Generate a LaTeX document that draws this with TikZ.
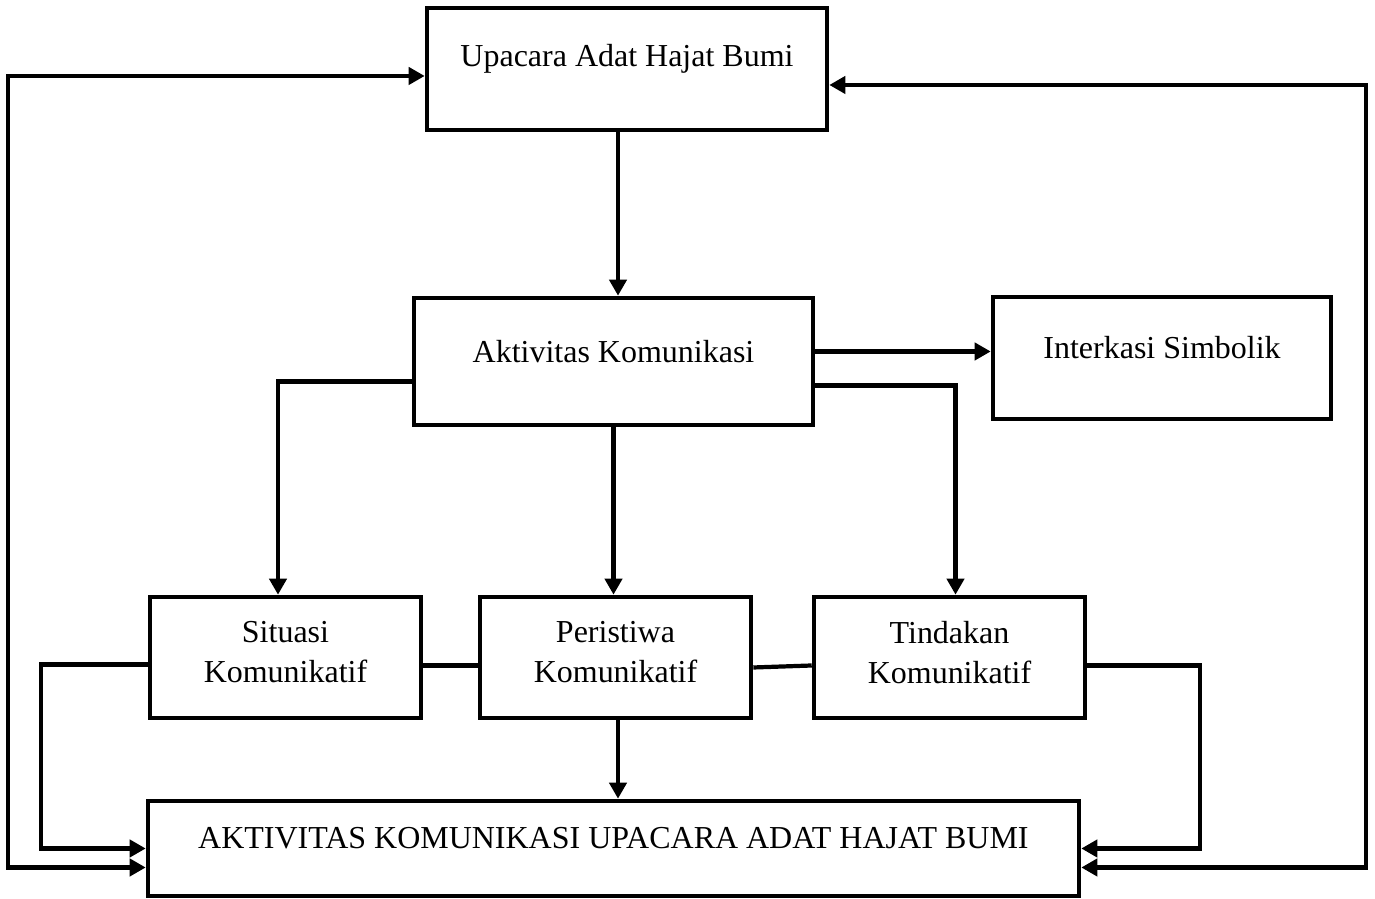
\documentclass[tikz,border=0pt]{standalone}
\usepackage{fontspec}
\setmainfont{Liberation Serif}
\usetikzlibrary{arrows.meta}

\begin{document}
\begin{tikzpicture}[
  kotak/.style={draw,line width=1.3pt,minimum height=1.22cm,inner sep=0pt},
  isi/.style={yshift=1mm,align=center,font=\fontsize{9.1}{11.4}\selectfont},
  garis/.style={line width=1.2pt},
  panah/.style={garis,-{Triangle[length=1.6mm,width=1.7mm]}},
  panahdua/.style={garis,{Triangle[length=1.6mm,width=1.7mm]}-{Triangle[length=1.6mm,width=1.7mm]}}
]
\useasboundingbox (0,0) rectangle (13.75,8.99);
\node[kotak,minimum width=4cm,label={[isi]center:Upacara Adat Hajat Bumi}] (upacara) at (6.27,8.30) {};
\node[kotak,minimum width=3.99cm,minimum height=1.27cm,label={[isi]center:Aktivitas Komunikasi}] (aktivitas) at (6.135,5.375) {};
\node[kotak,minimum width=3.38cm,label={[isi]center:Interkasi Simbolik}] (interaksi) at (11.62,5.41) {};
\node[kotak,minimum width=2.71cm,minimum height=1.21cm,label={[isi,yshift=-0.5mm]center:Situasi\\Komunikatif}] (situasi) at (2.855,2.415) {};
\node[kotak,minimum width=2.71cm,minimum height=1.21cm,label={[isi,yshift=-0.5mm]center:Peristiwa\\Komunikatif}] (peristiwa) at (6.155,2.415) {};
\node[kotak,minimum width=2.71cm,minimum height=1.21cm,label={[isi,yshift=-0.5mm]center:Tindakan\\Komunikatif}] (tindakan) at (9.495,2.415) {};
\node[kotak,minimum width=9.31cm,minimum height=0.95cm,label={[isi]center:AKTIVITAS KOMUNIKASI UPACARA ADAT HAJAT BUMI}] (hasil) at (6.135,0.505) {};
\coordinate (kiri) at (0.08,4.5);
\coordinate (kanan) at (13.66,4.5);

\draw[panah] ([xshift=-0.9mm]upacara.south) -- ([xshift=-0.9mm]upacara.south |- aktivitas.north);
\draw[panah] ([yshift=1mm]aktivitas.east) -- ([yshift=1mm]aktivitas.east -| interaksi.west);
\draw[panah] ([yshift=-2mm]aktivitas.west) -| ([xshift=-0.75mm]situasi.north);
\draw[panah] (aktivitas.south) -- (aktivitas.south |- peristiwa.north);
\draw[panah] ([yshift=-2.4mm]aktivitas.east) -| ([xshift=0.6mm]tindakan.north);
\draw[garis] ([yshift=-0.8mm]situasi.east) -- ([yshift=-0.8mm]situasi.east -| peristiwa.west);
\draw[garis] ([yshift=-1mm]peristiwa.east) -- ([yshift=-0.8mm]tindakan.west);
\draw[panah] ([xshift=0.25mm]peristiwa.south) -- ([xshift=0.25mm]peristiwa.south |- hasil.north);
\draw[panah] ([yshift=-0.7mm]situasi.west) -- ++(-1.07,0) |- (hasil.west);
\draw[panah] ([yshift=-0.8mm]tindakan.east) -- ++(1.13,0) |- (hasil.east);
\draw[panahdua] ([yshift=-0.7mm]upacara.west) -| (kiri) |- ([yshift=-1.9mm]hasil.west);
\draw[panahdua] ([yshift=-1.6mm]upacara.east) -| (kanan) |- ([yshift=-1.9mm]hasil.east);
\end{tikzpicture}
\end{document}
